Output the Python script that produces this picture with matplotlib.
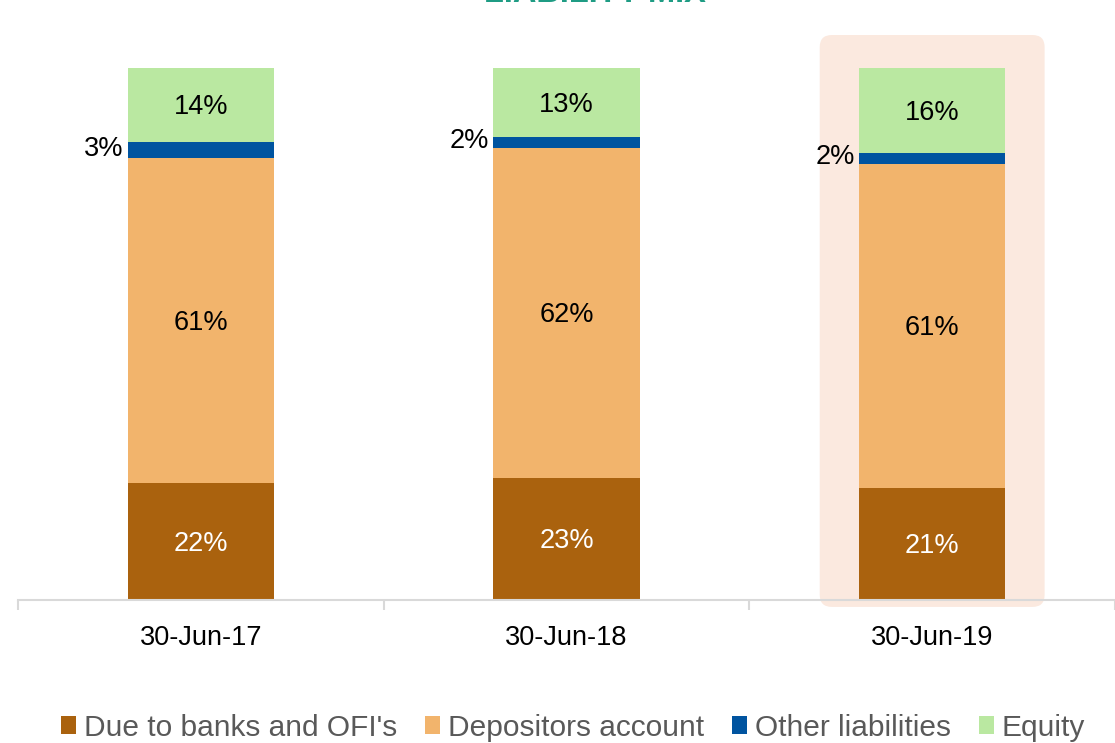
import matplotlib
matplotlib.use("Agg")
import matplotlib.pyplot as plt
from matplotlib.patches import FancyBboxPatch, Patch
import numpy as np

plt.rcParams['font.family'] = ['Liberation Sans', 'DejaVu Sans']

categories = ["30-Jun-17", "30-Jun-18", "30-Jun-19"]
series_names = ["Due to banks and OFI's", "Depositors account", "Other liabilities", "Equity"]
due_to_banks = [22, 23, 21]
depositors = [61, 62, 61]
other_liab = [3, 2, 2]
equity = [14, 13, 16]
colors = ["#AA620E", "#F2B46C", "#0054A0", "#BAE8A1"]
label_colors = ["white", "black", "black", "black"]
title = "LIABILITY MIX"

W, H = 1115, 743
fig = plt.figure(figsize=(W / 100, H / 100), dpi=100)
ax = fig.add_axes([18 / W, 143 / H, (1115 - 18) / W, 580 / H])

x = np.arange(len(categories))
bw = 0.4
ax.set_xlim(-0.5, len(categories) - 0.5)
ax.set_ylim(0, 580 / 5.32)

# highlight box behind last bar
hx = x[-1]
box = FancyBboxPatch((hx - 0.3075, -1.3), 0.615, 107.5,
                     boxstyle="round,pad=0,rounding_size=0.033",
                     mutation_aspect=68.8, facecolor="#FBE9DF",
                     edgecolor="none", zorder=0, clip_on=False)
ax.add_patch(box)

series = [due_to_banks, depositors, other_liab, equity]
bottom = np.zeros(len(categories))
for vals, col, lc, name in zip(series, colors, label_colors, series_names):
    vals = np.array(vals, dtype=float)
    ax.bar(x, vals, bw, bottom=bottom, color=col, zorder=2, label=name)
    for xi, v, b in zip(x, vals, bottom):
        if v <= 3:
            ax.text(xi - bw / 2 - 0.012, b + v / 2 + 0.3, f"{int(v)}%", ha="right",
                    va="center", fontsize=19.5, color="black", zorder=3)
        else:
            ax.text(xi, b + v / 2 - 0.4, f"{int(v)}%", ha="center", va="center",
                    fontsize=19.5, color=lc, zorder=3)
    bottom += vals

for s in ["top", "right", "left"]:
    ax.spines[s].set_visible(False)
ax.spines["bottom"].set_color("#D9D9D9")
ax.spines["bottom"].set_linewidth(1.5)
ax.set_yticks([])
ax.set_xticks([-0.5, 0.5, 1.5, 2.5], minor=False)
ax.set_xticklabels([])
ax.tick_params(axis="x", which="major", length=7, width=1.5, color="#D9D9D9",
               direction="out")
ax.set_xticks(x, minor=True)
ax.set_xticklabels(categories, minor=True, fontsize=19.5)
ax.tick_params(axis="x", which="minor", length=0, pad=18)

handles = [Patch(facecolor=c, edgecolor="none") for c in colors]
leg = fig.legend(handles, series_names, loc="center", bbox_to_anchor=(573 / W, 15 / H),
                 ncol=4, frameon=False, fontsize=21.5, handlelength=0.5,
                 handleheight=0.55, handletextpad=0.25, columnspacing=0.95,
                 borderaxespad=0, borderpad=0)
for t in leg.get_texts():
    t.set_color("#595959")

fig.text(595 / W, 1 - 1.5 / H, title, ha="center", va="baseline", fontsize=23.5,
         fontweight="bold", color="#1F9C84")

fig.savefig("out.png", dpi=100)
